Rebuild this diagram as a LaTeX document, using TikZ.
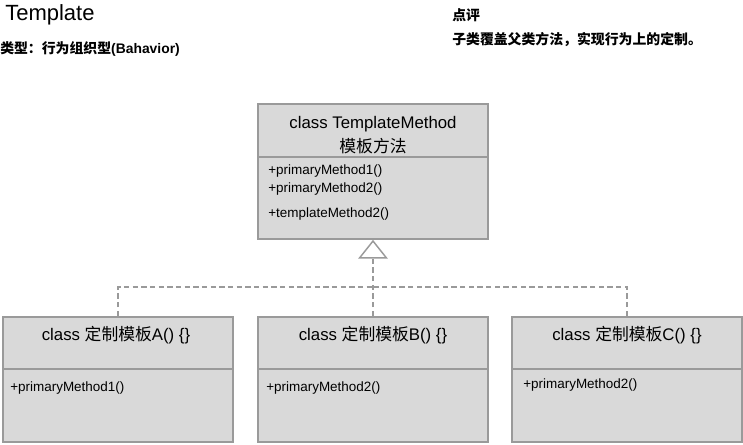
\documentclass[tikz,border=0pt]{standalone}
\usepackage{fontspec}
\setmainfont{Liberation Sans}
\newfontfamily\cjk{Noto Sans CJK SC}
\usetikzlibrary{positioning,arrows.meta}
\definecolor{boxfill}{HTML}{D9D9D9}
\definecolor{boxline}{HTML}{9A9A9A}
\definecolor{dashgray}{HTML}{9A9A9A}
\tikzset{
    classbox/.style={draw=boxline, fill=boxfill, line width=1.5pt, minimum width=172pt, inner sep=0pt},
    classname/.style={font=\fontsize{12.6}{18}\selectfont, align=center, inner sep=0pt},
    method/.style={font=\fontsize{10.1}{12}\selectfont, anchor=west, inner sep=0pt},
    note/.style={font=\fontsize{10.4}{12}\selectfont\bfseries, anchor=west, inner sep=0pt},
    realize/.style={draw=dashgray, line width=1.1pt, dash pattern=on 4pt off 2.5pt}
}

\begin{document}
\begin{tikzpicture}[x=0.75pt, y=-0.75pt]
    \useasboundingbox (0,0) rectangle (743,444);

    % header notes
    \node[anchor=west, inner sep=0pt, font=\fontsize{16.5}{18}\selectfont] (title) at (5,15) {Template};
    \node[note] (kind) at (0,49) {{\cjk 类型：行为组织型}(Bahavior)};
    \node[note] (remark) at (452,15) {\cjk 点评};
    \node[note] (remarktext) at (452,40) {\cjk 子类覆盖父类方法，实现行为上的定制。};

    % parent class
    \node[classbox, minimum height=101pt] (tmethod) at (373,171.5) {};
    \draw[boxline, line width=1.5pt] ([yshift=-40.5pt]tmethod.north west) -- ([yshift=-40.5pt]tmethod.north east);
    \node[classname] (tname) at (373,135) {class TemplateMethod\\{\cjk 模板方法}};
    \node[method] (tm1) at (268,171) {+primaryMethod1()};
    \node[method] (tm2) at (268,189) {+primaryMethod2()};
    \node[method] (tm3) at (268,214) {+templateMethod2()};

    % subclasses
    \node[classbox, minimum height=94pt] (tplA) at (118,379.5) {};
    \node[classbox, minimum height=94pt] (tplB) at (373,379.5) {};
    \node[classbox, minimum height=94pt] (tplC) at (627,379.5) {};
    \foreach \b in {tplA,tplB,tplC}
        \draw[boxline, line width=1.5pt] ([yshift=-40pt]\b.north west) -- ([yshift=-40pt]\b.north east);

    \node[classname] (nameA) at (116,335) {class {\cjk 定制模板}A() \{\}};
    \node[classname] (nameB) at (373,335) {class {\cjk 定制模板}B() \{\}};
    \node[classname] (nameC) at (627,335) {class {\cjk 定制模板}C() \{\}};
    \node[method] (mA) at (10,388) {+primaryMethod1()};
    \node[method] (mB) at (266,388) {+primaryMethod2()};
    \node[method] (mC) at (523,385) {+primaryMethod2()};

    % realization lines
    \coordinate (joint) at (373,287);
    \draw[realize] (tplA.north) |- (joint);
    \draw[realize] (tplC.north) |- (joint);
    \draw[realize, -{Triangle[open, length=14pt, width=22pt, line width=1.1pt]}] (tplB.north) -- (tmethod.south);

\end{tikzpicture}
\end{document}
